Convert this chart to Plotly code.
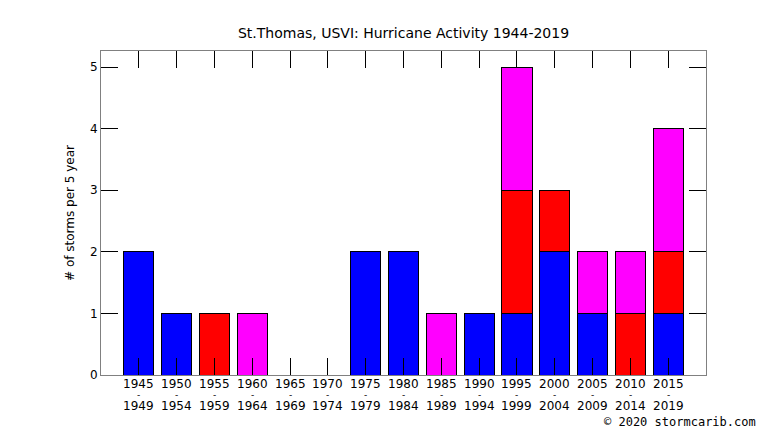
import plotly.graph_objects as go

# 5-year periods
periods = ["1945", "1950", "1955", "1960", "1965", "1970", "1975", "1980",
           "1985", "1990", "1995", "2000", "2005", "2010", "2015"]
period_ends = ["1949", "1954", "1959", "1964", "1969", "1974", "1979", "1984",
               "1989", "1994", "1999", "2004", "2009", "2014", "2019"]

# storms per period, stacked: blue, red, magenta
blue = [2, 1, 0, 0, 0, 0, 2, 2, 0, 1, 1, 2, 1, 0, 1]
red = [0, 0, 1, 0, 0, 0, 0, 0, 0, 0, 2, 1, 0, 1, 1]
magenta = [0, 0, 0, 1, 0, 0, 0, 0, 1, 0, 2, 0, 1, 1, 2]

x = list(range(len(periods)))

fig = go.Figure()
for vals, col in [(blue, "#0000ff"), (red, "#ff0000"), (magenta, "#ff00ff")]:
    fig.add_trace(go.Bar(x=x, y=vals, marker_color=col,
                         marker_line=dict(color="black", width=1),
                         width=0.8, hoverinfo="y"))

# page has an 8px body margin, figure starts at (8, 8) in the window
W, H = 750, 423
L, R, T, B = 93, 52, 43, 56
pw, ph = W - L - R, H - T - B

fig.update_layout(
    barmode="stack",
    width=W, height=H,
    showlegend=False,
    plot_bgcolor="white", paper_bgcolor="white",
    margin=dict(l=L, r=R, t=T, b=B),
    font=dict(family="DejaVu Sans", size=12, color="black"),
    title=dict(text="St.Thomas, USVI: Hurricane Activity 1944-2019",
               x=(L + pw / 2) / W, xanchor="center", y=1 - 25 / H, yanchor="middle",
               font=dict(size=14)),
)
fig.update_xaxes(range=[-1, 15], tickvals=x, showticklabels=False,
                 ticks="inside", ticklen=17, tickcolor="black", tickwidth=1,
                 showline=True, linecolor="#808080", linewidth=1, mirror="allticks",
                 showgrid=False, zeroline=False)
fig.update_yaxes(range=[0, 5.26], tickvals=[0, 1, 2, 3, 4, 5],
                 ticks="inside", ticklen=17, tickcolor="black", tickwidth=1,
                 showline=True, linecolor="#808080", linewidth=1, mirror="allticks",
                 showgrid=False, zeroline=False,
                 title=dict(text="# of storms per 5 year", standoff=12, font=dict(size=12)))

# three-line tick labels (start / dash / end), tighter than <br> spacing
rows = [(periods, 376, 12), (["-"] * len(periods), 387, 9), (period_ends, 398, 12)]
for labels, ypx, fs in rows:
    for xi, lab in zip(x, labels):
        fig.add_annotation(text=lab, x=xi, xref="x", y=(H - B - ypx) / ph, yref="paper",
                           xanchor="center", yanchor="middle", showarrow=False,
                           borderpad=0, font=dict(size=fs))

# footer in the bottom-right corner
fig.add_annotation(text="© 2020 stormcarib.com", xref="paper", yref="paper",
                   x=(W - 1 - L) / pw, y=(H - B - 414) / ph, xanchor="right", yanchor="middle",
                   showarrow=False, borderpad=0,
                   font=dict(family="DejaVu Sans Mono", size=12))

fig.write_html("out.html")
